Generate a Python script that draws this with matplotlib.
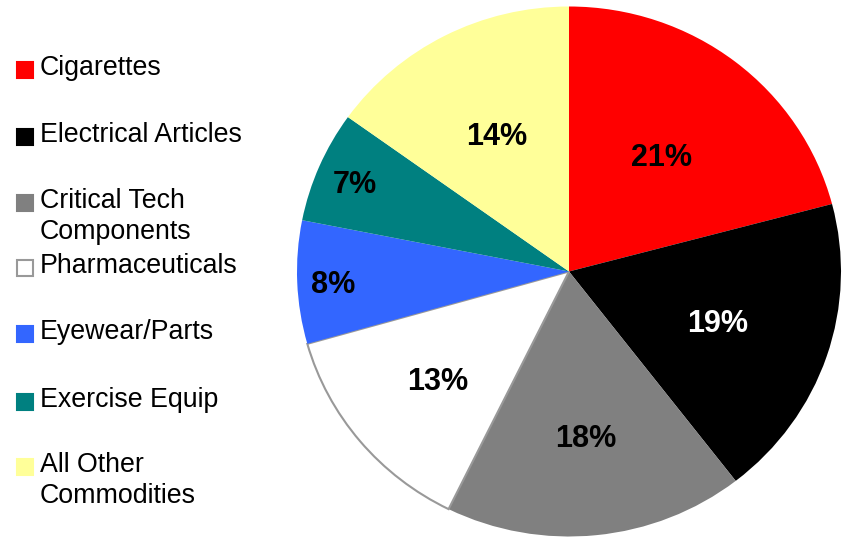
import numpy as np
import matplotlib.pyplot as plt
from matplotlib.patches import Rectangle

# Commodity shares (percent) - wedge sizes as drawn, labels as printed
categories = ['Cigarettes', 'Electrical Articles', 'Critical Tech\nComponents',
              'Pharmaceuticals', 'Eyewear/Parts', 'Exercise Equip',
              'All Other\nCommodities']
shares = [20.9, 18.6, 17.8, 13.3, 7.5, 6.8, 15.1]
pct_labels = ['21%', '19%', '18%', '13%', '8%', '7%', '14%']
colors = ['#FF0000', '#000000', '#808080', '#FFFFFF', '#3366FF', '#008080', '#FFFF99']
label_colors = ['black', 'white', 'black', 'black', 'black', 'black', 'black']

# radial position of each percent label (fraction of radius)
label_dist = [0.557, 0.575, 0.62, 0.63, 0.869, 0.858, 0.586]
# legend rows: baseline of first text line, in pixels from top
legend_base = [75, 142, 208, 273, 339, 407, 472]

plt.rcParams['font.family'] = ['Liberation Sans', 'DejaVu Sans']

W, H = 846, 539
fig = plt.figure(figsize=(W / 100, H / 100), dpi=100)
ax = fig.add_axes([0, 0, 1, 1])

# slightly squashed pie, as in the original
rx, ry = 272, 265
s = rx / ry
cx, cy = 569, (H - 271.5) * s

wedges, _ = ax.pie(shares, colors=colors, startangle=90, counterclock=False,
                   center=(cx, cy), radius=rx, wedgeprops=dict(linewidth=0))
wedges[3].set_edgecolor('#999999')
wedges[3].set_linewidth(1.5)

ax.set_aspect('auto')
ax.set_xlim(0, W)
ax.set_ylim(0, H * s)
ax.axis('off')

# percent labels (nudged down a little so the digits sit centred)
for w, lab, c, d in zip(wedges, pct_labels, label_colors, label_dist):
    ang = np.deg2rad((w.theta1 + w.theta2) / 2)
    ax.text(cx + d * rx * np.cos(ang), cy + d * rx * np.sin(ang) - 4, lab,
            ha='center', va='center', fontsize=22, fontweight='bold', color=c)

# legend on the left
for name, c, yb in zip(categories, colors, legend_base):
    ec = '#999999' if c == '#FFFFFF' else c
    fig.add_artist(Rectangle((17 / W, 1 - (yb - 5.5 + 8) / H), 16 / W, 16 / H,
                             transform=fig.transFigure, facecolor=c,
                             edgecolor=ec, linewidth=1.5))
    for i, line in enumerate(name.split('\n')):
        fig.text(40 / W, 1 - (yb + 31 * i) / H, line, fontsize=19.3,
                 ha='left', va='baseline', color='black')

fig.savefig('out.png', dpi=100)
